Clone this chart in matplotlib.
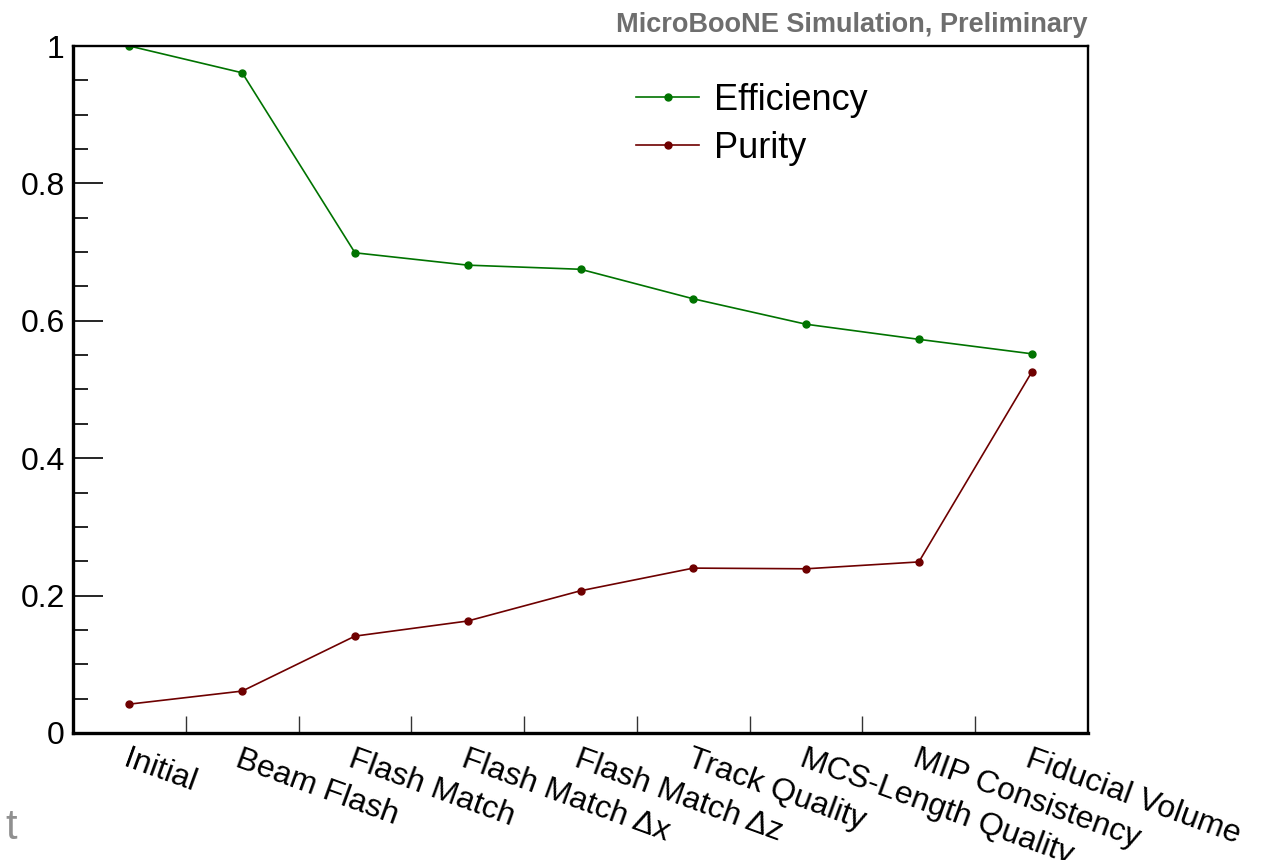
import matplotlib
matplotlib.use("Agg")
import matplotlib.pyplot as plt
from matplotlib.ticker import MultipleLocator, FuncFormatter

plt.rcParams['font.family'] = ['Liberation Sans', 'DejaVu Sans']

# Selection stages and per-stage performance
stages = ["Initial", "Beam Flash", "Flash Match", "Flash Match \u0394x",
          "Flash Match \u0394z", "Track Quality", "MCS-Length Quality",
          "MIP Consistency", "Fiducial Volume"]
efficiency = [1.000, 0.961, 0.699, 0.681, 0.675, 0.632, 0.595, 0.573, 0.552]
purity = [0.042, 0.061, 0.141, 0.163, 0.207, 0.240, 0.239, 0.249, 0.525]

green = "#007300"
darkred = "#6e0000"

fig = plt.figure(figsize=(12.77, 8.60), dpi=100)
ax = fig.add_axes([0.0572, 0.1477, 0.7948, 0.7988])

centers = [i + 0.5 for i in range(len(stages))]
ax.plot(centers, efficiency, color=green, lw=1.2, marker='o', ms=5,
        label="Efficiency")
ax.plot(centers, purity, color=darkred, lw=1.2, marker='o', ms=5,
        label="Purity")

ax.set_xlim(0, len(stages))
ax.set_ylim(0, 1)

# bin boundaries as tick marks, stage names at bin centres
ax.set_xticks(range(1, len(stages)))
ax.set_xticklabels([])
ax.tick_params(axis='x', which='major', direction='in', length=12,
               width=1.0, color='#333333')
ax.set_xticks(centers, minor=True)
ax.set_xticklabels(stages, minor=True, rotation=-20, ha='left', va='top',
                   rotation_mode='anchor', fontsize=23)
ax.tick_params(axis='x', which='minor', length=0, pad=8)

ax.yaxis.set_major_locator(MultipleLocator(0.2))
ax.yaxis.set_minor_locator(MultipleLocator(0.05))
ax.yaxis.set_major_formatter(FuncFormatter(lambda v, p: f"{v:g}"))
ax.tick_params(axis='y', which='major', direction='in', length=21.5,
               width=1.2, labelsize=23, pad=6)
ax.tick_params(axis='y', which='minor', direction='in', length=11,
               width=1.2)

for side in ('left', 'bottom'):
    ax.spines[side].set_linewidth(2.4)
for side in ('top', 'right'):
    ax.spines[side].set_linewidth(1.7)

leg = ax.legend(loc='upper left', bbox_to_anchor=(0.5547, 0.946),
                frameon=False, fontsize=26, handlelength=1.75,
                handletextpad=0.4, labelspacing=0.35, borderaxespad=0,
                borderpad=0)

ax.text(1.0, 1.03, "MicroBooNE Simulation, Preliminary",
        transform=ax.transAxes, ha='right', va='center', fontsize=19.5,
        fontweight='bold', color='#6e6e6e')

fig.text(0.004, 0.037, "t", fontsize=30, color='#909090',
         ha='left', va='center')

fig.savefig("out.png", dpi=100)
